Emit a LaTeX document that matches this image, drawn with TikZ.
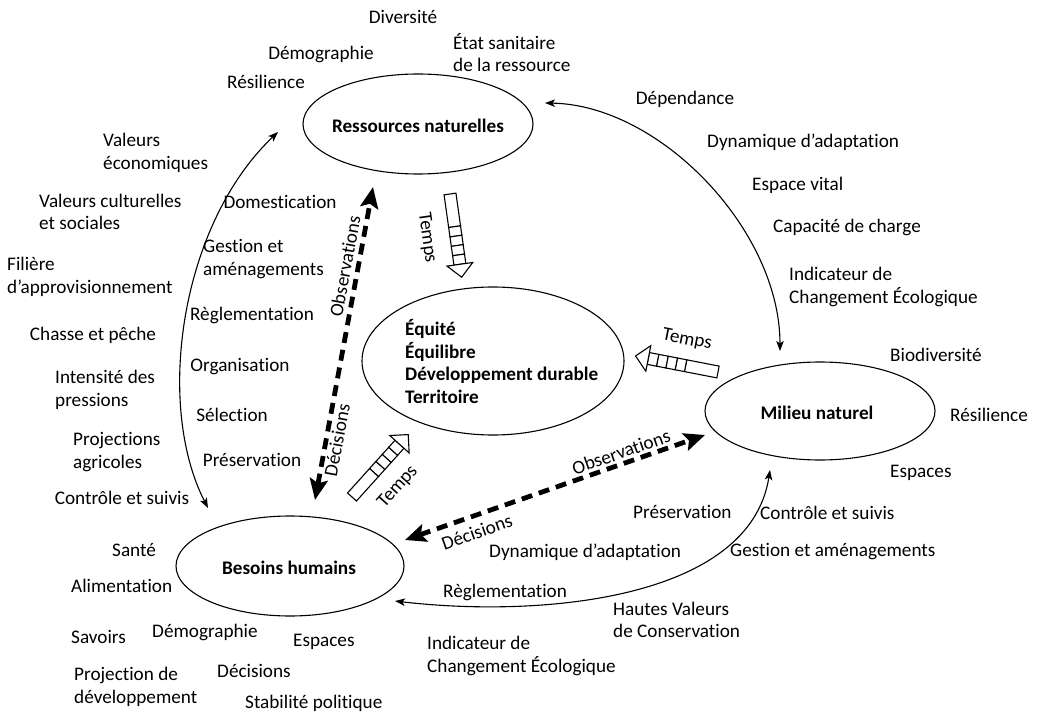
\documentclass[tikz,border=0pt]{standalone}
\usepackage{fontspec}
\setmainfont{Carlito}[Ligatures=NoCommon]
\usetikzlibrary{arrows.meta,shapes.geometric}
\begin{document}
\begin{tikzpicture}[x=1pt,y=-1pt,
  lbl/.style={font=\fontsize{19.2}{22.4}\selectfont, inner sep=0pt, align=left},
  bold/.style={font=\fontsize{19.2}{22.4}\selectfont\bfseries, inner sep=0pt, align=left},
  bub/.style={draw, ellipse, line width=1.1pt, inner sep=0pt},
  linkarc/.style={line width=1.1pt, {Stealth[length=10pt,width=7.5pt,inset=2.5pt]}-{Stealth[length=10pt,width=7.5pt,inset=2.5pt]}},
  obsdec/.style={line width=4.8pt, dash pattern=on 11pt off 7pt, {Stealth[length=21pt,width=18pt,inset=4pt]}-{Stealth[length=21pt,width=18pt,inset=4pt]}},
  tarrow/.style={draw, line width=1.1pt, fill=white, line join=miter},
  tempsarrow/.pic={
    \draw[tarrow] (0,-6) rectangle (33,6);
    \foreach \i in {0,1,2,3} {\draw[tarrow] ({33+9.5*\i},-6) rectangle ({42.5+9.5*\i},6);}
    \draw[tarrow] (71,-13) -- (84,0) -- (71,13) -- cycle;
  }
]
\useasboundingbox (0,0) rectangle (1039,714);

% ellipses
\node[bub, minimum width=230pt, minimum height=100pt] (rn) at (418,124) {};
\node[bold] (rnt) at (418,126) {Ressources naturelles};
\node[bub, minimum width=262pt, minimum height=148pt] (eq) at (493,361) {};
\node[bold, anchor=west] (eqt) at (405,361.5) {Équité\\Équilibre\\Développement durable\\Territoire};
\node[bub, minimum width=230pt, minimum height=98pt] (mn) at (820,411) {};
\node[bold] (mnt) at (817,413) {Milieu naturel};
\node[bub, minimum width=228pt, minimum height=100pt] (bh) at (290,566) {};
\node[bold] (bht) at (289,568) {Besoins humains};

% arcs
\coordinate (la1) at (278,132); \coordinate (la2) at (208,508);
\draw[linkarc] (la1) .. controls (180,225) and (155,405) .. (la2);
\coordinate (ra1) at (545,103); \coordinate (ra2) at (780,351);
\draw[linkarc] (ra1) .. controls (660,105) and (780,230) .. (ra2);
\coordinate (ba1) at (770,470); \coordinate (ba2) at (395,601);
\draw[linkarc] (ba2) .. controls (540,618) and (750,600) .. (ba1);

% dashed arrows
\coordinate (va1) at (315,500); \coordinate (va2) at (373,187);
\draw[obsdec] (va1) -- (va2);
\coordinate (da1) at (405,540); \coordinate (da2) at (705,435);
\draw[obsdec] (da1) -- (da2);
\node[lbl, rotate=79.5] (obs1) at (345,266) {Observations};
\node[lbl, rotate=79.5] (dec1) at (337,440) {Décisions};
\node[lbl, rotate=19.3] (obs2) at (621,452) {Observations};
\node[lbl, rotate=19.3] (dec2) at (477,532) {Décisions};

% temps arrows
\pic[rotate=-82] at (450,194) {tempsarrow};
\pic[rotate=169] at (718,372) {tempsarrow};
\pic[rotate=48] at (352,497) {tempsarrow};
\node[lbl, rotate=-82] (t1) at (427,238) {Temps};
\node[lbl, rotate=-11] (t2) at (687,340) {Temps};
\node[lbl, rotate=48] (t3) at (398,487) {Temps};

% top labels
\node[lbl] (l1) at (403,17) {Diversité};
\node[lbl, anchor=west] (l2) at (453,52.5) {État sanitaire\\de la ressource};
\node[lbl] (l3) at (321,54) {Démographie};
\node[lbl] (l4) at (266,82) {Résilience};

% left column
\node[lbl, anchor=west] (l5) at (103,153) {Valeurs\\économiques};
\node[lbl, anchor=west] (l6) at (39,212) {Valeurs culturelles\\et sociales};
\node[lbl, anchor=west] (l7) at (7,277) {Filière\\d’approvisionnement};
\node[lbl] (l8) at (93,335) {Chasse et pêche};
\node[lbl, anchor=west] (l9) at (55,390) {Intensité des\\pressions};
\node[lbl, anchor=west] (l10) at (73,452) {Projections\\agricoles};
\node[lbl] (l11) at (122,498) {Contrôle et suivis};

% inner left
\node[lbl] (l12) at (280,202) {Domestication};
\node[lbl, anchor=west] (l13) at (203,259) {Gestion et\\aménagements};
\node[lbl] (l14) at (252,315) {Règlementation};
\node[lbl] (l15) at (240,367) {Organisation};
\node[lbl] (l16) at (232,415) {Sélection};
\node[lbl] (l17) at (252,460) {Préservation};

% right side
\node[lbl] (l18) at (685,99) {Dépendance};
\node[lbl, anchor=west] (l19) at (707,142) {Dynamique d’adaptation};
\node[lbl, anchor=west] (l20) at (752,185) {Espace vital};
\node[lbl, anchor=west] (l21) at (773,227) {Capacité de charge};
\node[lbl, anchor=west] (l22) at (789,287) {Indicateur de\\Changement Écologique};
\node[lbl, anchor=west] (l23) at (890,355) {Biodiversité};
\node[lbl, anchor=west] (l24) at (950,415) {Résilience};
\node[lbl, anchor=west] (l25) at (890,473) {Espaces};
\node[lbl, anchor=west] (l26) at (760,513) {Contrôle et suivis};
\node[lbl, anchor=west] (l27) at (730,552) {Gestion et aménagements};

% bottom middle
\node[lbl, anchor=west] (l28) at (633,512) {Préservation};
\node[lbl, anchor=west] (l29) at (489,552) {Dynamique d’adaptation};
\node[lbl, anchor=west] (l30) at (443,592) {Règlementation};
\node[lbl, anchor=west] (l31) at (613,620) {Hautes Valeurs\\de Conservation};
\node[lbl, anchor=west] (l32) at (427,656) {Indicateur de\\Changement Écologique};

% bottom left
\node[lbl, anchor=west] (l33) at (112,550) {Santé};
\node[lbl, anchor=west] (l34) at (71,586) {Alimentation};
\node[lbl, anchor=west] (l35) at (71,637) {Savoirs};
\node[lbl, anchor=west] (l36) at (152,632) {Démographie};
\node[lbl, anchor=west] (l37) at (293,642) {Espaces};
\node[lbl, anchor=west] (l38) at (74,687) {Projection de\\développement};
\node[lbl, anchor=west] (l39) at (217,671) {Décisions};
\node[lbl, anchor=west] (l40) at (245,703) {Stabilité politique};
\end{tikzpicture}
\end{document}
